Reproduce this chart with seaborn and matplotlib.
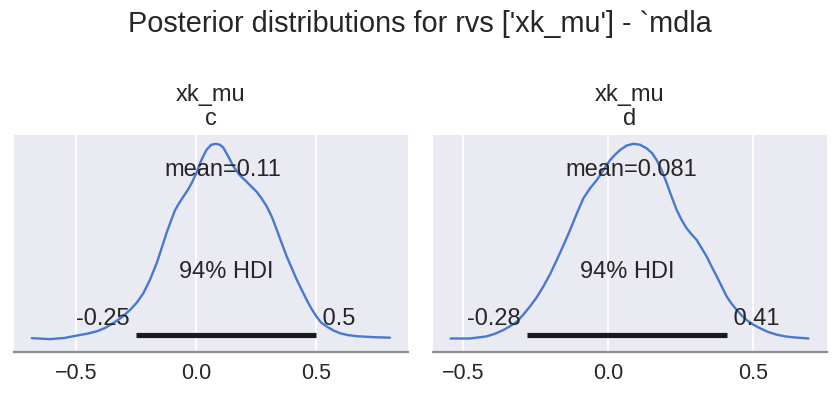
import numpy as np
import pandas as pd
import matplotlib
matplotlib.use("Agg")
import matplotlib.pyplot as plt
import seaborn as sns

# posterior density (panel "c")
x_c = [-0.686, -0.61, -0.55, -0.499, -0.455, -0.415, -0.38, -0.346, -0.31, -0.276, -0.248,
       -0.221, -0.193, -0.165, -0.145, -0.124, -0.106, -0.089, -0.07, -0.054, -0.035,
       -0.019, 0.0, 0.015, 0.03, 0.043, 0.062, 0.082, 0.098, 0.1125, 0.133, 0.154,
       0.18, 0.21, 0.23, 0.251, 0.272, 0.293, 0.315, 0.335, 0.356, 0.376, 0.397,
       0.418, 0.44, 0.46, 0.48, 0.501, 0.52, 0.543, 0.57, 0.599, 0.63, 0.668, 0.738, 0.807]
dens_c = [0.01, 0.0, 0.012, 0.036, 0.056, 0.08, 0.115, 0.165, 0.225, 0.30, 0.375,
          0.47, 0.61, 0.78, 0.93, 1.09, 1.21, 1.32, 1.40, 1.46, 1.53,
          1.60, 1.70, 1.80, 1.88, 1.94, 1.99, 2.0, 1.99, 1.96, 1.87, 1.77,
          1.68, 1.61, 1.56, 1.51, 1.44, 1.36, 1.25, 1.12, 0.98, 0.85, 0.73,
          0.61, 0.50, 0.40, 0.31, 0.23, 0.17, 0.13, 0.09, 0.06, 0.042, 0.03, 0.02, 0.015]

# posterior density (panel "d")
x_d = [-0.544, -0.477, -0.42, -0.39, -0.362, -0.34, -0.316, -0.293, -0.27, -0.247, -0.224,
       -0.2, -0.178, -0.155, -0.132, -0.109, -0.086, -0.063, -0.04, -0.017, 0.006,
       0.023, 0.04, 0.063, 0.086, 0.109, 0.132, 0.15, 0.167, 0.184, 0.201, 0.218,
       0.236, 0.253, 0.27, 0.288, 0.305, 0.322, 0.339, 0.356, 0.374, 0.391, 0.408,
       0.425, 0.443, 0.46, 0.477, 0.5, 0.523, 0.55, 0.58, 0.61, 0.638, 0.69]
dens_d = [0.007, 0.007, 0.03, 0.06, 0.10, 0.14, 0.19, 0.27, 0.36, 0.46, 0.58,
          0.72, 0.87, 1.03, 1.20, 1.38, 1.55, 1.66, 1.75, 1.86, 1.97,
          2.03, 2.08, 2.13, 2.15, 2.14, 2.10, 2.05, 1.97, 1.86, 1.72, 1.57,
          1.42, 1.31, 1.22, 1.15, 1.09, 1.00, 0.91, 0.80, 0.69, 0.58, 0.47,
          0.39, 0.32, 0.26, 0.21, 0.16, 0.12, 0.08, 0.05, 0.03, 0.02, 0.007]

panels = ["c", "d"]
means = [0.11, 0.081]
mean_labels = ["0.11", "0.081"]
hdi_low = [-0.25, -0.28]
hdi_high = [0.5, 0.41]
hdi_low_labels = ["-0.25", "-0.28"]
hdi_high_labels = ["0.5", "0.41"]
xlims = [(-0.76, 0.882), (-0.6045, 0.754)]
ticks = [-0.5, 0.0, 0.5]

sns.set_theme(style="darkgrid")
plt.rcParams["font.family"] = ["Liberation Sans", "DejaVu Sans"]

fig, axes = plt.subplots(1, 2, figsize=(8.4, 3.98), dpi=100)
fig.subplots_adjust(left=0.0167, right=0.9845, bottom=0.1156, top=0.6608, wspace=0.0635)

txt_size = 17
data = [(x_c, dens_c), (x_d, dens_d)]
for i, ax in enumerate(axes):
    xs, ds = data[i]
    df = pd.DataFrame({"x": xs, "density": ds})
    sns.lineplot(data=df, x="x", y="density", ax=ax, color="#4878d0",
                 linewidth=1.7, sort=False, estimator=None)
    peak = max(ds)
    top = peak * 1.045
    ax.set_ylim(-0.063 * top, top)
    ax.set_xlim(*xlims[i])

    # hdi bar and labels
    ax.plot([hdi_low[i], hdi_high[i]], [top * 0.02, top * 0.02], color="#1a1a1a",
            linewidth=3.7, solid_capstyle="butt")
    ax.text(hdi_low[i], top * 0.07, hdi_low_labels[i] + " ", ha="right",
            fontsize=txt_size, color="#262626")
    ax.text(hdi_high[i], top * 0.07, " " + hdi_high_labels[i], ha="left",
            fontsize=txt_size, color="#262626")
    ax.text((hdi_low[i] + hdi_high[i]) / 2, top * 0.3, "94% HDI", ha="center",
            fontsize=txt_size, color="#262626")
    ax.text(means[i], top * 0.8, "mean=" + mean_labels[i], ha="center",
            fontsize=txt_size, color="#262626")

    ax.set_title("xk_mu\n" + panels[i], fontsize=17, color="#262626", pad=7,
                 linespacing=1.12)
    ax.set_xticks(ticks)
    ax.set_yticks([])
    ax.set_xlabel("")
    ax.set_ylabel("")
    ax.grid(axis="y", visible=False)
    ax.grid(axis="x", color="white", linewidth=1.3)
    ax.tick_params(axis="x", labelsize=15.5, length=0, pad=8, colors="#262626")
    for side in ["left", "right", "top"]:
        ax.spines[side].set_visible(False)
    ax.spines["bottom"].set_visible(True)
    ax.spines["bottom"].set_color("#8c8c8c")
    ax.spines["bottom"].set_linewidth(1.6)

fig.suptitle("Posterior distributions for rvs ['xk_mu'] - `mdla", fontsize=20.8,
             color="#262626", y=0.975)

fig.savefig("out.png", dpi=100, facecolor="white")
